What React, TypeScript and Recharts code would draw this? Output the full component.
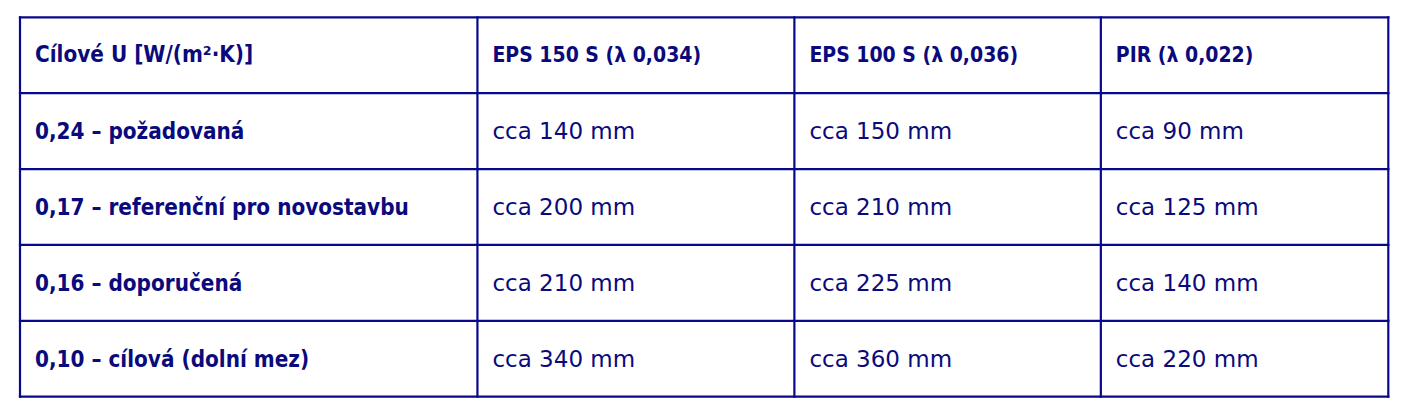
import React from "react";
import { ScatterChart, Scatter, XAxis, YAxis, ReferenceLine } from "recharts";

// ---- data ----
const columns = ["Cílové U [W/(m²·K)]", "EPS 150 S (λ 0,034)", "EPS 100 S (λ 0,036)", "PIR (λ 0,022)"];
const uLevels = ["0,24 – požadovaná", "0,17 – referenční pro novostavbu", "0,16 – doporučená", "0,10 – cílová (dolní mez)"];
const eps150 = [140, 200, 210, 340];
const eps100 = [150, 210, 225, 360];
const pir = [90, 125, 140, 220];

// ---- layout ----
const colWidths = [457.5, 317, 306.5, 287.5];
const CHART_W = 1392;
const CHART_H = 400;
const MARGIN = { top: 9.3, left: 12, right: 11.7, bottom: 11.3 };
const PAD = 15;
const NAVY = "#0a0a7c";
const LINE = "#08088a";

const colStarts: number[] = [];
colWidths.reduce((acc, w) => {
  colStarts.push(acc);
  return acc + w;
}, 0);
const totalW = colWidths.reduce((a, b) => a + b, 0);
const colBounds = [...colStarts, totalW];
const rowCount = uLevels.length + 1;
const rowBounds = Array.from({ length: rowCount + 1 }, (_, i) => i);

const fmt = (v: number) => `cca ${v} mm`;

type Cell = { x: number; y: number; text: string; kind: "head" | "rowhead" | "body" };
const cells: Cell[] = [];
columns.forEach((c, ci) => {
  cells.push({ x: colStarts[ci] + PAD, y: 0.5, text: c, kind: ci === 0 ? "rowhead" : "head" });
});
uLevels.forEach((u, ri) => {
  const r = ri + 1.5;
  cells.push({ x: colStarts[0] + PAD, y: r, text: u, kind: "rowhead" });
  cells.push({ x: colStarts[1] + PAD, y: r, text: fmt(eps150[ri]), kind: "body" });
  cells.push({ x: colStarts[2] + PAD, y: r, text: fmt(eps100[ri]), kind: "body" });
  cells.push({ x: colStarts[3] + PAD, y: r, text: fmt(pir[ri]), kind: "body" });
});

const CellText = (props: any) => {
  const { cx, cy } = props;
  const p: Cell = props.payload ?? props;
  let style: any;
  let dy = 7.8;
  if (p.kind === "body") {
    style = { fontFamily: "'DejaVu Sans', sans-serif", fontSize: 23, fontWeight: 400 };
  } else if (p.kind === "rowhead") {
    style = { fontFamily: "'DejaVu Sans Condensed', 'DejaVu Sans', sans-serif", fontStretch: "condensed", fontSize: 22.3, fontWeight: 700 };
    dy = p.y < 1 ? 7.2 : 8;
  } else {
    style = { fontFamily: "'DejaVu Sans Condensed', 'DejaVu Sans', sans-serif", fontStretch: "condensed", fontSize: 21, fontWeight: 700 };
    dy = 6.9;
  }
  return (
    <text x={cx} y={cy} dy={dy} textAnchor="start" fill={NAVY} style={style}>
      {p.text}
    </text>
  );
};

export default function App() {
  return (
    <div style={{ width: CHART_W, height: CHART_H, background: "#fff" }}>
      <ScatterChart width={CHART_W} height={CHART_H} margin={MARGIN}>
        <XAxis type="number" dataKey="x" domain={[0, totalW]} hide allowDataOverflow />
        <YAxis type="number" dataKey="y" domain={[0, rowCount]} reversed hide allowDataOverflow />
        {rowBounds.map((b) => (
          <ReferenceLine key={"r" + b} y={b} stroke={LINE} strokeWidth={2.2} strokeLinecap="square" />
        ))}
        {colBounds.map((b) => (
          <ReferenceLine key={"c" + b} x={b} stroke={LINE} strokeWidth={2.2} strokeLinecap="square" />
        ))}
        <Scatter data={cells} shape={CellText} isAnimationActive={false} />
      </ScatterChart>
    </div>
  );
}
